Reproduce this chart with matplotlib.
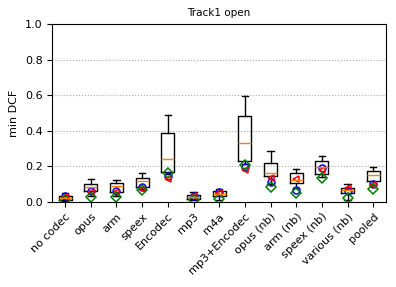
import numpy as np
import matplotlib
matplotlib.use('Agg')
import matplotlib.pyplot as plt

conditions = ['no codec', 'opus', 'arm', 'speex', 'Encodec', 'mp3', 'm4a',
              'mp3+Encodec', 'opus (nb)', 'arm (nb)', 'speex (nb)',
              'various (nb)', 'pooled']

# box statistics per condition (min DCF)
whis_lo = [0.003, 0.035, 0.030, 0.070, 0.155, 0.008, 0.012, 0.215, 0.100, 0.075, 0.140, 0.012, 0.095]
q1      = [0.010, 0.062, 0.056, 0.085, 0.169, 0.018, 0.030, 0.230, 0.145, 0.103, 0.154, 0.050, 0.117]
med     = [0.020, 0.086, 0.088, 0.117, 0.240, 0.028, 0.043, 0.333, 0.160, 0.120, 0.195, 0.064, 0.150]
q3      = [0.032, 0.100, 0.107, 0.134, 0.390, 0.040, 0.060, 0.485, 0.216, 0.163, 0.229, 0.075, 0.173]
whis_hi = [0.050, 0.128, 0.124, 0.160, 0.489, 0.055, 0.072, 0.596, 0.286, 0.186, 0.257, 0.098, 0.195]

# individual systems
sys_blue  = [0.032, 0.062, 0.060, 0.085, 0.147, 0.035, 0.055, 0.197, 0.113, 0.066, 0.188, 0.060, 0.098]
sys_red   = [0.025, 0.056, 0.056, 0.072, 0.127, 0.030, 0.050, 0.180, 0.135, 0.130, 0.180, 0.078, 0.096]
sys_green = [0.010, 0.028, 0.028, 0.065, 0.163, 0.010, 0.015, 0.205, 0.085, 0.047, 0.132, 0.023, 0.072]

stats = []
for i, name in enumerate(conditions):
    stats.append(dict(label=name, whislo=whis_lo[i], q1=q1[i], med=med[i],
                      q3=q3[i], whishi=whis_hi[i], fliers=[]))

fig = plt.figure(figsize=(3.96, 2.87), dpi=100)
ax = fig.add_axes([0.132, 0.297, 0.843, 0.618])

ax.bxp(stats, showfliers=False)
x = np.arange(1, len(conditions) + 1)
ax.plot(x, sys_blue, 'o', color='b', fillstyle='none', markersize=5, mew=1.1, ls='none')
ax.plot(x, sys_red, '<', color='r', fillstyle='none', markersize=5, mew=1.1, ls='none')
ax.plot(x, sys_green, 'D', color='g', fillstyle='none', markersize=5, mew=1.1, ls='none')

ax.set_ylim(0, 1.0)
ax.set_yticks([0.0, 0.2, 0.4, 0.6, 0.8, 1.0])
ax.yaxis.grid(True, linestyle=':', color='#aaaaaa')
ax.set_axisbelow(True)
ax.set_ylabel('min DCF', fontsize=8)
ax.set_title('Track1 open', fontsize=7.5)
ax.set_xticks(x)
ax.set_xticklabels(conditions, rotation=45, ha='right', rotation_mode='anchor', fontsize=8)
ax.tick_params(axis='y', labelsize=8)

fig.savefig('out.png', dpi=100)
